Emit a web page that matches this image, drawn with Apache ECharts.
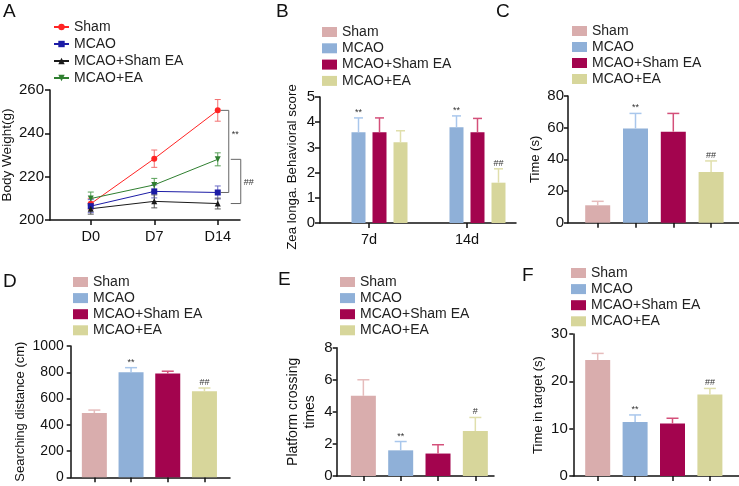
<!DOCTYPE html>
<html><head><meta charset="utf-8">
<script src="https://cdn.jsdelivr.net/npm/echarts@6/dist/echarts.min.js"></script>
<style>html,body{margin:0;padding:0;background:#fff}#c{width:739px;height:486px}</style>
</head><body><div id="c"></div>
<script>
// ---------- data ----------
const groupNames = ['Sham', 'MCAO', 'MCAO+Sham EA', 'MCAO+EA'];

// A: body weight
const weightDays = ['D0', 'D7', 'D14'];
const weightTicks = [200, 220, 240, 260];
const weightSham = [207.5, 228.3, 250.6];
const weightShamErr = [2.5, 4, 5];
const weightMCAO = [206.4, 213.2, 212.7];
const weightMCAOErr = [3, 3, 3];
const weightShamEA = [205.2, 208.6, 207.6];
const weightShamEAErr = [2.5, 3, 2.5];
const weightEA = [209.9, 216.2, 228.0];
const weightEAErr = [3, 3, 3];

// B: Zea longa score
const zeaDays = ['7d', '14d'];
const zeaTicks = [0, 1, 2, 3, 4, 5];
const zeaSham = [0, 0];
const zeaShamErr = [0, 0];
const zeaMCAO = [3.6, 3.8];
const zeaMCAOErr = [0.57, 0.45];
const zeaShamEA = [3.6, 3.6];
const zeaShamEAErr = [0.57, 0.55];
const zeaEA = [3.2, 1.6];
const zeaEAErr = [0.46, 0.55];
const zeaMCAOMarks = ['**', '**'];
const zeaEAMarks = ['', '##'];

// C: escape latency
const timeTicks = [0, 20, 40, 60, 80];
const escapeTime = [11, 59.5, 57.5, 32];
const escapeTimeErr = [2.5, 9.5, 11.5, 7];
const escapeMarks = ['', '**', '', '##'];

// D: searching distance
const distTicks = [0, 200, 400, 600, 800, 1000];
const searchDist = [490, 800, 790, 655];
const searchDistErr = [22, 35, 18, 25];
const distMarks = ['', '**', '', '##'];

// E: platform crossings
const crossTicks = [0, 2, 4, 6, 8];
const crossings = [5, 1.6, 1.4, 2.8];
const crossingsErr = [1, 0.55, 0.55, 0.85];
const crossMarks = ['', '**', '', '#'];

// F: time in target
const targetTicks = [0, 10, 20, 30];
const targetTime = [24.5, 11.4, 11.1, 17.2];
const targetTimeErr = [1.4, 1.5, 1.1, 1.3];
const targetMarks = ['', '**', '', '##'];

// ---------- style ----------
const FONT = '"Liberation Sans", Arial, Helvetica, sans-serif';
const INK = '#111';
const groupColors = ['#d9adad', '#8fb0d8', '#a3044e', '#d7d69b'];
const errColors = ['#e6bcbc', '#a9c7ec', '#d4507a', '#e0dfac'];
const lineColors = ['#ff2424', '#1c1ca6', '#1a1a1a', '#2f7f30'];
const lineErrColors = ['#f27070', '#6b6bc4', '#555555', '#58a058'];
const lineSymbols = ['circle', 'rect', 'triangle', 'triangle'];
const lineRotate = [0, 0, 0, 180];

const grids = [], xAxes = [], yAxes = [], series = [], legends = [], titles = [];
const axisLine = {show: true, onZero: false, lineStyle: {color: INK, width: 1.5}};
const plainNum = v => String(v);

function addTitle(t, left, top) {
  titles.push({text: t, left, top, padding: 0,
    textStyle: {fontSize: 19, fontWeight: 'normal', color: INK, fontFamily: FONT}});
}

function addLegend(prefix, left, top, gap, lineIcon) {
  legends.push({
    data: groupNames.map(n => prefix + '|' + n),
    formatter: n => n.split('|')[1],
    orient: 'vertical', left, top, padding: 0, itemGap: gap,
    itemWidth: 15, itemHeight: lineIcon ? 8 : 10,
    icon: lineIcon ? undefined : 'rect',
    selectedMode: false,
    textStyle: {fontSize: 14, fontFamily: FONT, color: '#222', lineHeight: 14}
  });
}

// outer frame grid: y axis + full-length x axis line
function addFrame(f, ticks, yName, nameGap, nameSize, labelSize, labelMargin, tickLen) {
  const gi = grids.length;
  grids.push({left: f.left, top: f.top, width: f.width, height: f.height, outerBoundsMode: 'none'});
  xAxes.push({gridIndex: gi, type: 'value', min: 0, max: 1, axisLine,
    axisTick: {show: false}, axisLabel: {show: false}, splitLine: {show: false}});
  yAxes.push({gridIndex: gi, type: 'value', min: ticks[0], max: ticks[ticks.length - 1],
    interval: ticks[1] - ticks[0],
    name: yName, nameLocation: 'middle', nameRotate: 90, nameGap,
    nameTextStyle: {fontSize: nameSize, fontFamily: FONT, color: INK, lineHeight: nameSize + 3},
    axisLine, axisTick: {show: true, length: tickLen, lineStyle: {color: INK, width: 1.5}},
    axisLabel: {fontSize: labelSize, fontFamily: FONT, color: INK, margin: labelMargin, formatter: plainNum},
    splitLine: {show: false}});
}

// inner grid: category axis (ticks + labels) sharing the y scale
function addInner(f, left, width, cats, ticks, showLabels, labelSize, labelMargin, tickLen) {
  const gi = grids.length;
  grids.push({left, top: f.top, width, height: f.height, outerBoundsMode: 'none'});
  xAxes.push({gridIndex: gi, type: 'category', data: cats, boundaryGap: true,
    axisLine: {show: false, onZero: false},
    axisTick: {show: true, alignWithLabel: true, interval: 0, length: tickLen, lineStyle: {color: INK, width: 1.5}},
    axisLabel: {show: showLabels, interval: 0, fontSize: labelSize, fontFamily: FONT, color: INK, margin: labelMargin}});
  yAxes.push({gridIndex: gi, type: 'value', min: ticks[0], max: ticks[ticks.length - 1], show: false});
  return xAxes.length - 1;
}

function errSeries(axisIdx, vals, errs, opts) {
  series.push({
    type: 'custom', xAxisIndex: axisIdx, yAxisIndex: axisIdx, z: opts.z || 4, silent: true,
    data: vals.map((v, i) => [i, v, errs[i]]),
    renderItem: function (params, api) {
      const i = api.value(0), v = api.value(1), e = api.value(2);
      if (!e) return null;
      const c = api.coord([i, v]);
      const t = api.coord([i, v + e]);
      const b = opts.both ? api.coord([i, v - e]) : c;
      const x = c[0] + (opts.offset || 0);
      const col = opts.colorOf(i);
      const hw = opts.capW / 2;
      const lw = opts.lw || 1.5;
      const ch = [
        {type: 'line', shape: {x1: x, y1: b[1], x2: x, y2: t[1]}, style: {stroke: col, lineWidth: lw}},
        {type: 'line', shape: {x1: x - hw, y1: t[1], x2: x + hw, y2: t[1]}, style: {stroke: col, lineWidth: lw}}
      ];
      if (opts.both) ch.push({type: 'line', shape: {x1: x - hw, y1: b[1], x2: x + hw, y2: b[1]}, style: {stroke: col, lineWidth: lw}});
      const m = opts.marks ? opts.marks[params.dataIndex] : '';
      if (m) ch.push({type: 'text', x: x, y: t[1] - 1,
        style: {text: m, fill: '#333', font: '9px ' + FONT, align: 'center', verticalAlign: 'bottom'}});
      return {type: 'group', children: ch};
    }
  });
}

// ---------- Panel A ----------
addTitle('A', 3, 2);
addLegend('A', 53, 20, 3, true);
{
  const f = {left: 50, top: 90, width: 190, height: 130};
  addFrame(f, weightTicks, 'Body Weight(g)', 28, 13.5, 15, 6, 5);
  const ax = addInner(f, 59, 190.5, weightDays, weightTicks, true, 14.5, 9, 5);
  const vals = [weightSham, weightMCAO, weightShamEA, weightEA];
  const errs = [weightShamErr, weightMCAOErr, weightShamEAErr, weightEAErr];
  vals.forEach((v, k) => {
    errSeries(ax, v, errs[k], {both: true, capW: 6, lw: 1, z: 2, colorOf: () => lineErrColors[k]});
    series.push({type: 'line', name: 'A|' + groupNames[k], xAxisIndex: ax, yAxisIndex: ax, data: v,
      symbol: lineSymbols[k], symbolRotate: lineRotate[k], symbolSize: 6, showSymbol: true, z: 3,
      lineStyle: {color: lineColors[k], width: 1}, itemStyle: {color: lineColors[k]}, silent: true});
  });
  const brackets = [
    {top: weightSham[2], bottom: weightMCAO[2], x1: 3, x2: 11, text: '**', frac: 0.3},
    {top: weightEA[2], bottom: weightShamEA[2], x1: 13, x2: 23, text: '##', frac: 0.52}
  ];
  brackets.forEach(br => {
    series.push({type: 'custom', xAxisIndex: ax, yAxisIndex: ax, silent: true, z: 3,
      data: [[weightDays.length - 1, br.top, br.bottom]],
      renderItem: function (params, api) {
        const p1 = api.coord([api.value(0), api.value(1)]);
        const p2 = api.coord([api.value(0), api.value(2)]);
        const xa = p1[0] + br.x1, xb = p1[0] + br.x2;
        return {type: 'group', children: [
          {type: 'polyline', shape: {points: [[xa, p1[1]], [xb, p1[1]], [xb, p2[1]], [xa, p2[1]]]},
            style: {stroke: '#666', lineWidth: 1, fill: null}},
          {type: 'text', x: xb + 3, y: p1[1] + (p2[1] - p1[1]) * br.frac,
            style: {text: br.text, fill: '#333', font: '9px ' + FONT, verticalAlign: 'middle'}}
        ]};
      }});
  });
}

// ---------- Panel B ----------
addTitle('B', 276, 2);
addLegend('B', 322, 25, 2.3, false);
{
  const gi = grids.length;
  grids.push({left: 320, top: 97, width: 196, height: 126, outerBoundsMode: 'none'});
  xAxes.push({gridIndex: gi, type: 'category', data: zeaDays, boundaryGap: true, axisLine,
    axisTick: {show: true, alignWithLabel: true, length: 5, lineStyle: {color: INK, width: 1.5}},
    axisLabel: {fontSize: 14.5, fontFamily: FONT, color: INK, margin: 9}});
  yAxes.push({gridIndex: gi, type: 'value', min: zeaTicks[0], max: zeaTicks[zeaTicks.length - 1],
    interval: zeaTicks[1] - zeaTicks[0],
    name: 'Zea longa. Behavioral score', nameLocation: 'middle', nameRotate: 90, nameGap: 21,
    nameTextStyle: {fontSize: 13.3, fontFamily: FONT, color: INK, padding: [0, 14, 0, 0]},
    axisLine, axisTick: {show: true, length: 5, lineStyle: {color: INK, width: 1.5}},
    axisLabel: {fontSize: 15, fontFamily: FONT, color: INK, margin: 5}, splitLine: {show: false}});
  const ax = xAxes.length - 1;
  const barW = 14, gapW = 7;
  const vals = [zeaSham, zeaMCAO, zeaShamEA, zeaEA];
  const errs = [zeaShamErr, zeaMCAOErr, zeaShamEAErr, zeaEAErr];
  const marks = [null, zeaMCAOMarks, null, zeaEAMarks];
  const total = 4 * barW + 3 * gapW;
  vals.forEach((v, k) => {
    series.push({type: 'bar', name: 'B|' + groupNames[k], xAxisIndex: ax, yAxisIndex: ax, data: v,
      barWidth: barW, barGap: (gapW / barW * 100) + '%', itemStyle: {color: groupColors[k]}, silent: true});
  });
  vals.forEach((v, k) => {
    errSeries(ax, v, errs[k], {offset: -total / 2 + barW / 2 + k * (barW + gapW), capW: 9,
      colorOf: () => errColors[k], marks: marks[k]});
  });
}

// ---------- single-bar panels C-F ----------
function barPanel(p, cfg) {
  addTitle(p, cfg.title[0], cfg.title[1]);
  addLegend(p, cfg.legend[0], cfg.legend[1], cfg.legendGap, false);
  addFrame(cfg.frame, cfg.ticks, cfg.name, cfg.nameGap, cfg.nameSize, cfg.labelSize, cfg.labelMargin, 4);
  const ax = addInner(cfg.frame, cfg.inner[0], cfg.inner[1], groupNames, cfg.ticks, false, 14, 8, 5);
  groupNames.forEach((n, k) => {
    series.push({type: 'bar', name: p + '|' + n, xAxisIndex: ax, yAxisIndex: ax,
      data: cfg.values.map((v, i) => i === k ? v : '-'),
      barWidth: 25, barGap: '-100%', itemStyle: {color: groupColors[k]}, silent: true});
  });
  errSeries(ax, cfg.values, cfg.errs, {capW: 12, colorOf: i => errColors[i], marks: cfg.marks});
}

barPanel('C', {title: [496, 2], legend: [572, 24], legendGap: 2,
  frame: {left: 568, top: 96, width: 171, height: 126.7}, inner: [578.8, 151.2],
  ticks: timeTicks, name: 'Time (s)', nameGap: 24, nameSize: 13, labelSize: 15, labelMargin: 4,
  values: escapeTime, errs: escapeTimeErr, marks: escapeMarks});

barPanel('D', {title: [3, 272], legend: [73, 275], legendGap: 2.1,
  frame: {left: 70.7, top: 346, width: 159.3, height: 131.3}, inner: [76, 146.8],
  ticks: distTicks, name: 'Searching distance (cm)', nameGap: 42, nameSize: 13, labelSize: 14, labelMargin: 7,
  values: searchDist, errs: searchDistErr, marks: distMarks});

barPanel('E', {title: [278, 270], legend: [340, 275], legendGap: 2.1,
  frame: {left: 336.7, top: 347.7, width: 157.3, height: 128.3}, inner: [344.7, 149.3],
  ticks: crossTicks, name: 'Platform crossing\ntimes', nameGap: 18, nameSize: 14, labelSize: 15, labelMargin: 4,
  values: crossings, errs: crossingsErr, marks: crossMarks});

barPanel('F', {title: [522, 266], legend: [571, 266], legendGap: 2.1,
  frame: {left: 573.3, top: 334, width: 165.7, height: 142}, inner: [579, 149.6],
  ticks: targetTicks, name: 'Time in target (s)', nameGap: 27, nameSize: 13, labelSize: 15, labelMargin: 5.5,
  values: targetTime, errs: targetTimeErr, marks: targetMarks});

const chart = echarts.init(document.getElementById('c'), null, {renderer: 'canvas'});
chart.setOption({
  animation: false,
  backgroundColor: '#fff',
  textStyle: {fontFamily: FONT},
  title: titles, legend: legends, grid: grids, xAxis: xAxes, yAxis: yAxes, series: series,
  tooltip: {show: false}
});
</script>
</body></html>
